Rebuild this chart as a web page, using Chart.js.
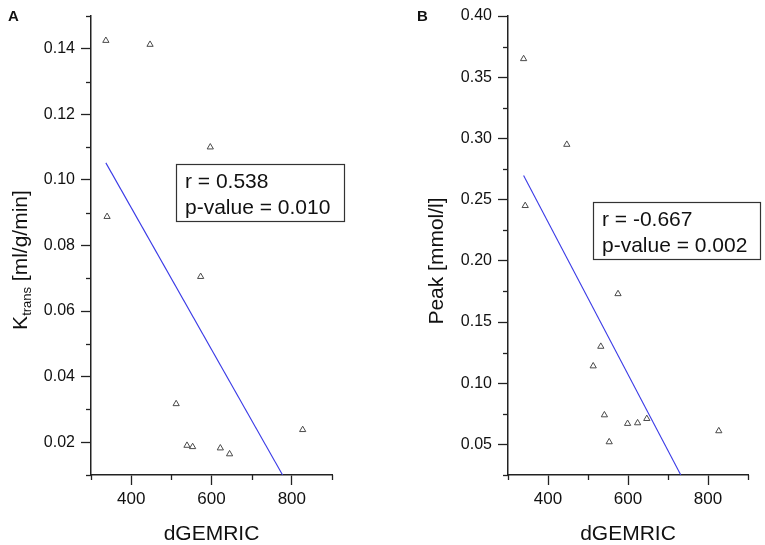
<!DOCTYPE html>
<html><head><meta charset="utf-8">
<script src="https://cdn.jsdelivr.net/npm/chart.js@4.4.1/dist/chart.umd.min.js"></script>
<style>
html,body{margin:0;padding:0;background:#fff;}
#wrap{position:relative;width:765px;height:545px;overflow:hidden;background:#fff;}
#ca{position:absolute;left:0;top:0;}
#cb{position:absolute;left:383px;top:0;}
</style></head><body>
<div id="wrap"><canvas id="ca" width="383" height="545"></canvas><canvas id="cb" width="382" height="545"></canvas></div>
<script>
// ---------------- data ----------------
const dgemricA = [337, 447, 597, 340, 573, 512, 539, 553, 622, 645, 827];
const ktrans   = [0.1425, 0.1413, 0.1100, 0.0888, 0.0705, 0.0317, 0.0190, 0.0186, 0.0182, 0.0164, 0.0238];
const fitAX = [337, 777];
const fitAY = [0.1052, 0.0100];

const dgemricB = [339, 447, 343, 575, 532, 513, 541, 553, 599, 624, 647, 827];
const peak     = [0.365, 0.295, 0.245, 0.173, 0.130, 0.114, 0.074, 0.052, 0.067, 0.0675, 0.071, 0.061];
const fitBX = [339, 732];
const fitBY = [0.2696, 0.0250];

const xTickLabels  = ['400', '600', '800'];
const yTickLabelsA = ['0.02', '0.04', '0.06', '0.08', '0.10', '0.12', '0.14'];
const yTickLabelsB = ['0.05', '0.10', '0.15', '0.20', '0.25', '0.30', '0.35', '0.40'];

const statsA = ['r = 0.538', 'p-value = 0.010'];
const statsB = ['r = -0.667', 'p-value = 0.002'];
const xTitle = 'dGEMRIC';
const yTitleA = [['K', 'main'], ['trans', 'sub'], [' [ml/g/min]', 'main']];
const yTitleB = [['Peak [mmol/l]', 'main']];

// ---------------- style ----------------
const FONT = "'Liberation Sans', Arial, Helvetica, sans-serif";
const AXIS = '#222';
const TEXT = '#111';
const MAJOR = 10, MINOR = 5;

function pts(xs, ys) { return xs.map((x, i) => ({x: x, y: ys[i]})); }

function decoPlugin(cfg) {
  return {
    id: 'deco' + cfg.letter,
    afterDraw(chart) {
      const ctx = chart.ctx;
      const ca = chart.chartArea;
      const xs = chart.scales.x, ys = chart.scales.y;
      ctx.save();
      ctx.strokeStyle = AXIS; ctx.lineWidth = 1.3;
      xs.ticks.forEach(t => {
        if (t.label === '') {
          const p = Math.round(xs.getPixelForValue(t.value)) + 0.5;
          ctx.beginPath(); ctx.moveTo(p, ca.bottom); ctx.lineTo(p, ca.bottom + MINOR); ctx.stroke();
        }
      });
      ys.ticks.forEach(t => {
        if (t.label === '') {
          const p = Math.round(ys.getPixelForValue(t.value)) + 0.5;
          ctx.beginPath(); ctx.moveTo(ca.left, p); ctx.lineTo(ca.left - MINOR, p); ctx.stroke();
        }
      });
      // stats box
      const b = cfg.box;
      ctx.strokeStyle = '#333'; ctx.lineWidth = 1.2;
      ctx.strokeRect(b[0] + 0.5, b[1] + 0.5, b[2] - b[0], b[3] - b[1]);
      ctx.fillStyle = TEXT; ctx.font = '21px ' + FONT;
      ctx.textAlign = 'left'; ctx.textBaseline = 'alphabetic';
      cfg.lines.forEach((s, i) => ctx.fillText(s, cfg.textX, cfg.baselines[i]));
      // panel letter
      ctx.font = 'bold 15px ' + FONT;
      ctx.fillText(cfg.letter, cfg.letterX, cfg.letterY);
      // y title (rotated)
      ctx.translate(cfg.titleX, cfg.titleY);
      ctx.rotate(-Math.PI / 2);
      const fonts = {main: '21px ' + FONT, sub: '13px ' + FONT};
      let total = 0;
      cfg.title.forEach(p => { ctx.font = fonts[p[1]]; total += ctx.measureText(p[0]).width; });
      let x = -total / 2;
      cfg.title.forEach(p => {
        ctx.font = fonts[p[1]];
        ctx.fillText(p[0], x, p[1] === 'sub' ? 4 : 0);
        x += ctx.measureText(p[0]).width;
      });
      ctx.restore();
    }
  };
}

function makeChart(id, xsData, ysData, fx, fy, yMin, yMax, yStep, yLabels, geo, deco) {
  const tickColor = c => (c.tick && c.tick.label !== '') ? AXIS : 'rgba(0,0,0,0)';
  return new Chart(document.getElementById(id), {
    type: 'scatter',
    data: {
      datasets: [
        {
          type: 'line', data: pts(fx, fy), borderColor: '#3a3ae6', borderWidth: 1.1,
          pointRadius: 0, fill: false, tension: 0, order: 2
        },
        {
          data: pts(xsData, ysData), pointStyle: 'triangle', pointRadius: 3.6,
          borderColor: '#4a4a4a', borderWidth: 1, backgroundColor: 'rgba(0,0,0,0)', order: 1
        }
      ]
    },
    options: {
      responsive: false, maintainAspectRatio: false, animation: false,
      layout: {padding: {left: 0, top: geo.top, right: geo.right, bottom: 0}},
      plugins: {legend: {display: false}, tooltip: {enabled: false}},
      scales: {
        x: {
          type: 'linear', min: 300, max: 900,
          afterFit: s => { s.height = geo.xHeight; },
          border: {display: true, color: AXIS, width: 1.5},
          grid: {drawOnChartArea: false, drawTicks: true, tickLength: MAJOR, tickColor: tickColor, tickWidth: 1.3},
          ticks: {
            stepSize: 100, padding: 4, color: TEXT, maxRotation: 0, autoSkip: false,
            font: {family: FONT, size: 17},
            callback: v => { const s = String(v); return xTickLabels.includes(s) ? s : ''; }
          },
          title: {display: true, text: xTitle, color: TEXT, font: {family: FONT, size: 21, lineHeight: 1}, padding: {top: 0, bottom: 0}}
        },
        y: {
          type: 'linear', min: yMin, max: yMax,
          afterFit: s => { s.width = geo.yWidth; },
          border: {display: true, color: AXIS, width: 1.5},
          grid: {drawOnChartArea: false, drawTicks: true, tickLength: MAJOR, tickColor: tickColor, tickWidth: 1.3},
          ticks: {
            stepSize: yStep, padding: 6, color: TEXT, autoSkip: false,
            font: {family: FONT, size: 16},
            callback: v => { const s = Number(v).toFixed(2); return yLabels.includes(s) ? s : ''; }
          }
        }
      }
    },
    plugins: [decoPlugin(deco)]
  });
}

makeChart('ca', dgemricA, ktrans, fitAX, fitAY, 0.01, 0.15, 0.01, yTickLabelsA,
  {top: 16, right: 51, xHeight: 70, yWidth: 91},
  {letter: 'A', letterX: 8, letterY: 21, box: [176, 164, 344, 221], textX: 185, baselines: [188, 214],
   lines: statsA, title: yTitleA, titleX: 27, titleY: 260});

makeChart('cb', dgemricB, peak, fitBX, fitBY, 0.025, 0.40, 0.025, yTickLabelsB,
  {top: 16, right: 17, xHeight: 70, yWidth: 125},
  {letter: 'B', letterX: 34, letterY: 21, box: [210, 202, 377, 259], textX: 219, baselines: [226, 252],
   lines: statsB, title: yTitleB, titleX: 60, titleY: 261});
</script>
</body></html>
